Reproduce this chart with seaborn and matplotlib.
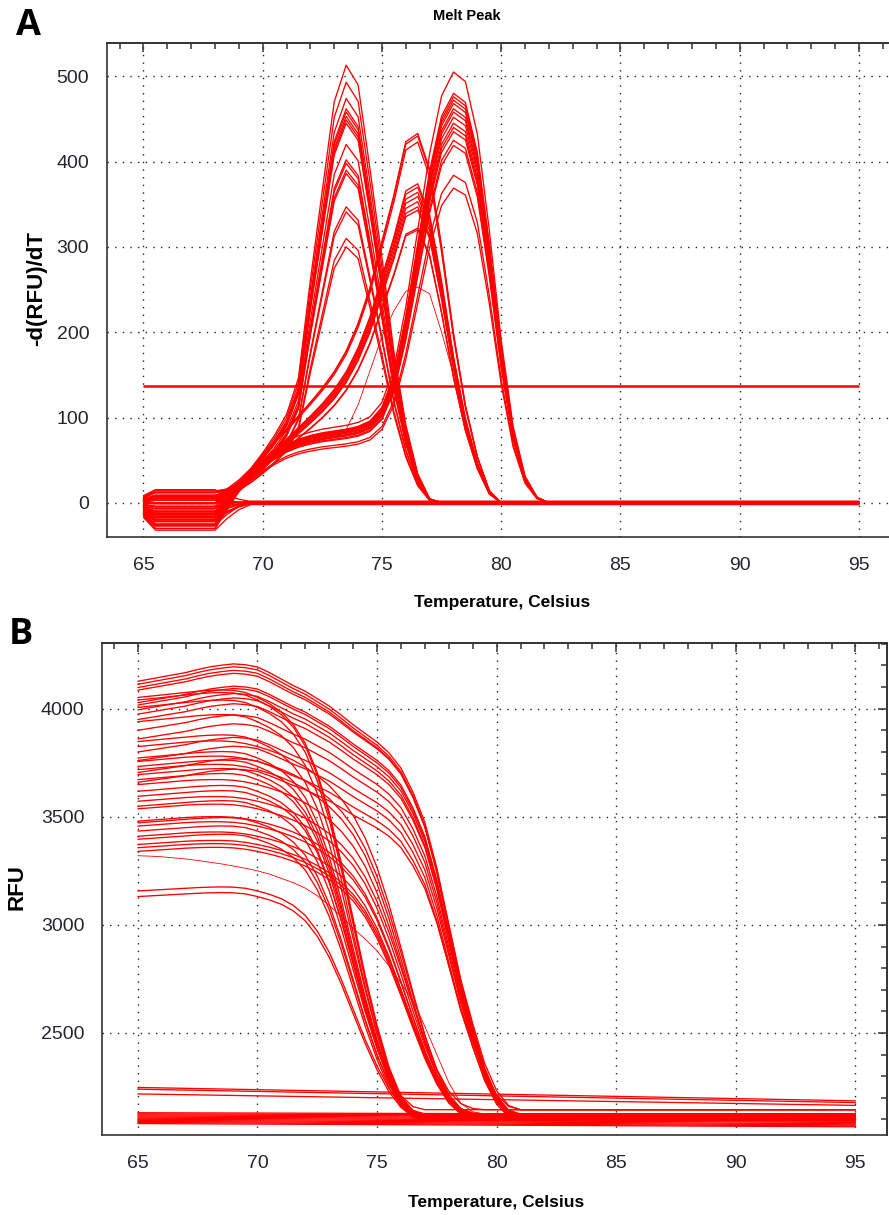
import numpy as np
import pandas as pd
import matplotlib
matplotlib.use("Agg")
import matplotlib.pyplot as plt
import seaborn as sns
from matplotlib import font_manager
from matplotlib.ticker import MultipleLocator

# ==========================================
# DATA (read off the instrument export)
# ==========================================
# readings every 0.5 C from 65 to 95
TEMPS = np.arange(65.0, 95.01, 0.5)

# --- panel A: melt peak, -d(RFU)/dT, profiles read from 65 C onwards (0 after the last value)
A_EARLY = [0, 0, 0, 0, 0, 0, 0, 8, 20, 33, 48, 65, 85, 120, 214, 300, 385, 420,
           401, 320, 235, 145, 75, 28, 4, 0]
A_MID = [0, 0, 0, 0, 0, 0, 0, 8, 20, 33, 47, 60, 72, 85, 98, 112, 128, 148, 175,
         210, 255, 300, 352, 360, 325, 250, 165, 95, 45, 12, 0]
A_LATE = [0, 0, 0, 0, 0, 0, 0, 8, 20, 32, 44, 55, 64, 70, 74, 77, 79, 81, 84, 90,
          105, 140, 205, 285, 365, 425, 450, 440, 385, 285, 170, 80, 28, 6, 0]
A_THIN = [0, 0, 0, 0, 0, 0, 0, 8, 20, 32, 44, 54, 62, 67, 71, 74, 77, 86, 115,
          155, 195, 225, 248, 253, 245, 200, 150, 92, 42, 10, 0]

PEAKS_EARLY = [513, 493, 474, 462, 458, 453, 449, 445, 420, 402, 398, 390, 386, 347, 341, 310, 300]
PEAKS_MID = [433, 430, 423, 374, 370, 364, 359, 353, 347, 343, 322, 320]
PEAKS_LATE = [505, 480, 476, 472, 468, 462, 458, 452, 445, 440, 435, 425, 419, 384, 369]

# baseline wobble of every well below 69 C
LOW_OFFSETS = [12, -25, 6, -14, 0, -30, 9, -19, -4, 3, -10, -22, 14, -7, -16, -1, 5, -27, -12, 8]
LOW_WEIGHT = [0.5, 1, 1, 1, 1, 1, 1, 0.55, 0.2, 0]
FLAT_LEVELS_A = [-2, -1.5, -1, -0.5, 0, 0.5, 1, 1.5, 2, -1, 0.8, -0.3, 1.2, 0]
THRESHOLD = 137

# --- panel B: melt curve, RFU. fraction of signal left above each well's baseline
B_EARLY = [1.0, 1.003, 1.006, 1.009, 1.012, 1.015, 1.017, 1.018, 1.017, 1.012, 1.0,
           0.985, 0.965, 0.935, 0.89, 0.82, 0.725, 0.605, 0.47, 0.335, 0.215, 0.115,
           0.045, 0.01, 0]
B_MID = [1.0, 1.003, 1.006, 1.009, 1.012, 1.014, 1.015, 1.015, 1.013, 1.008, 1.0,
         0.99, 0.978, 0.963, 0.945, 0.922, 0.895, 0.86, 0.815, 0.755, 0.675, 0.575,
         0.46, 0.34, 0.225, 0.13, 0.06, 0.02, 0.004, 0]
B_LATE = [1.0, 1.005, 1.01, 1.015, 1.02, 1.027, 1.033, 1.037, 1.04, 1.038, 1.033,
          1.02, 1.005, 0.99, 0.977, 0.96, 0.943, 0.922, 0.9, 0.88, 0.86, 0.835, 0.8,
          0.745, 0.675, 0.57, 0.44, 0.31, 0.205, 0.11, 0.045, 0.01, 0]
B_THIN = [3320, 3318, 3315, 3310, 3305, 3298, 3290, 3282, 3272, 3262, 3250, 3235,
          3215, 3195, 3170, 3135, 3090, 3040, 2985, 2935, 2880, 2810, 2730, 2650,
          2530, 2400, 2270, 2175, 2135, 2125]

START_EARLY = [4052, 4040, 4006, 3940, 3848, 3772, 3733, 3695, 3672, 3618, 3595, 3549,
               3472, 3434, 3396, 3157, 3131]
START_MID = [3825, 3756, 3718, 3649, 3572, 3537, 3480, 3457, 3410, 3372, 3357, 3340]
START_LATE = [4127, 4113, 4098, 4086, 4028, 4017, 3995, 3975, 3950, 3900, 3860, 3800,
              3760, 3705, 3660]
BASELINE_B = [2120, 2105, 2115, 2098, 2125, 2110, 2102, 2118, 2095, 2108, 2145]

# wells that never melt: RFU at 65 C and at 95 C
FLAT_B_START = [2131, 2126, 2121, 2116, 2111, 2106, 2101, 2096, 2091, 2086, 2081, 2248, 2240, 2218]
FLAT_B_END = [2122, 2116, 2110, 2104, 2098, 2092, 2086, 2080, 2075, 2070, 2066, 2186, 2178, 2165]

RED = '#ff0000'
INK = '#333333'


def pad(vals):
    """Extend a reading list to the full 65-95 range with its last value."""
    vals = list(vals)
    return np.array(vals + [vals[-1]] * (len(TEMPS) - len(vals)), dtype=float)


def build_panel_a():
    rows = []
    low_w = pad(LOW_WEIGHT)
    k = 0
    for peaks, prof in [(PEAKS_EARLY, A_EARLY), (PEAKS_MID, A_MID), (PEAKS_LATE, A_LATE)]:
        shape = pad(prof) / max(prof)
        for p in peaks:
            y = p * shape + LOW_OFFSETS[k % len(LOW_OFFSETS)] * low_w
            rows += [(k, 'amp', t, v) for t, v in zip(TEMPS, y)]
            k += 1
    y = pad(A_THIN) + LOW_OFFSETS[k % len(LOW_OFFSETS)] * low_w
    rows += [(k, 'thin', t, v) for t, v in zip(TEMPS, y)]
    k += 1
    for lvl in FLAT_LEVELS_A:
        y = lvl + LOW_OFFSETS[k % len(LOW_OFFSETS)] * low_w
        rows += [(k, 'amp', t, v) for t, v in zip(TEMPS, y)]
        k += 1
    return pd.DataFrame(rows, columns=['well', 'kind', 'temp', 'value'])


def build_panel_b():
    rows = []
    k = 0
    for starts, frac in [(START_EARLY, B_EARLY), (START_MID, B_MID), (START_LATE, B_LATE)]:
        f = pad(frac)
        for s in starts:
            base = BASELINE_B[k % len(BASELINE_B)]
            y = base + (s - base) * f
            rows += [(k, 'amp', t, v) for t, v in zip(TEMPS, y)]
            k += 1
    rows += [(k, 'thin', t, v) for t, v in zip(TEMPS, pad(B_THIN))]
    k += 1
    for s, e in zip(FLAT_B_START, FLAT_B_END):
        rows += [(k, 'amp', TEMPS[0], s), (k, 'amp', TEMPS[-1], e)]
        k += 1
    return pd.DataFrame(rows, columns=['well', 'kind', 'temp', 'value'])


# ==========================================
# STYLE
# ==========================================
sns.set_theme(style='white')
names = {f.name for f in font_manager.fontManager.ttflist}
NARROW = 'Liberation Sans Narrow' if 'Liberation Sans Narrow' in names else 'Liberation Sans'
TICK_SIZE = 16 if NARROW == 'Liberation Sans Narrow' else 14
LABEL_SIZE = 15 if NARROW == 'Liberation Sans Narrow' else 12.5
plt.rcParams['font.family'] = [NARROW, 'DejaVu Sans']

W, H = 889, 1215
fig = plt.figure(figsize=(W / 100, H / 100), dpi=100)


def frame(ax, xlim, ylim, ymajor, yminor, right_ticks):
    ax.set_xlim(*xlim)
    ax.set_ylim(*ylim)
    ax.xaxis.set_major_locator(MultipleLocator(5))
    ax.xaxis.set_minor_locator(MultipleLocator(1))
    ax.yaxis.set_major_locator(MultipleLocator(ymajor))
    ax.yaxis.set_minor_locator(MultipleLocator(yminor))
    ax.tick_params(which='major', direction='inout', length=11.5, width=1.1, color=INK,
                   labelsize=TICK_SIZE, labelcolor='#25252e', pad=7)
    ax.tick_params(which='minor', direction='inout', length=6.5, width=1.1, color=INK)
    ax.tick_params(axis='x', which='major', pad=9)
    ax.grid(True, which='major', color='#222222', linestyle=(0, (1, 4.5)), lw=1.0)
    ax.set_axisbelow(True)
    for sp in ax.spines.values():
        sp.set_color(INK)
        sp.set_linewidth(1.2)
    ax.set_xlabel('')
    ax.set_ylabel('')
    top = ax.secondary_xaxis('top')
    top.xaxis.set_major_locator(MultipleLocator(5))
    top.xaxis.set_minor_locator(MultipleLocator(1))
    top.tick_params(which='major', direction='in', length=6.5, width=1.1, color=INK, labeltop=False)
    top.tick_params(which='minor', direction='in', length=4.5, width=1.1, color=INK)
    top.spines['top'].set_color(INK)
    top.spines['top'].set_linewidth(1.2)
    if right_ticks:
        rt = ax.secondary_yaxis('right')
        rt.yaxis.set_major_locator(MultipleLocator(ymajor))
        rt.yaxis.set_minor_locator(MultipleLocator(yminor))
        rt.tick_params(which='major', direction='in', length=6.5, width=1.1, color=INK, labelright=False)
        rt.tick_params(which='minor', direction='in', length=4.5, width=1.1, color=INK)
        rt.spines['right'].set_color(INK)
        rt.spines['right'].set_linewidth(1.2)


def draw_lines(ax, df):
    sns.lineplot(data=df[df.kind == 'amp'], x='temp', y='value', units='well', estimator=None,
                 color=RED, lw=0.95, ax=ax, legend=False)
    sns.lineplot(data=df[df.kind == 'thin'], x='temp', y='value', units='well', estimator=None,
                 color=RED, lw=0.6, ax=ax, legend=False)


# ---- Panel A
ax_a = fig.add_axes([107 / W, 1 - 537 / H, 786 / W, (537 - 43) / H])
draw_lines(ax_a, build_panel_a())
ax_a.hlines(THRESHOLD, TEMPS[0], TEMPS[-1], color=RED, lw=1.8, zorder=3)
frame(ax_a, (63.47, 96.43), (-40, 539), 100, 20, right_ticks=False)

# ---- Panel B
ax_b = fig.add_axes([102 / W, 1 - 1135 / H, 785 / W, (1135 - 643) / H])
draw_lines(ax_b, build_panel_b())
frame(ax_b, (63.5, 96.32), (2028, 4304), 500, 100, right_ticks=True)

# ---- texts
bold_lbl = dict(fontweight='bold', color='black', ha='center', va='center')
fig.text(467 / W, 1 - 16 / H, 'Melt Peak', fontsize=LABEL_SIZE - 2, **bold_lbl)
fig.text(502 / W, 1 - 603 / H, 'Temperature, Celsius', fontsize=LABEL_SIZE, **bold_lbl)
fig.text(496 / W, 1 - 1202 / H, 'Temperature, Celsius', fontsize=LABEL_SIZE, **bold_lbl)
fig.text(37 / W, 1 - 288 / H, '-d(RFU)/dT', fontsize=16, rotation=90,
         family=['Liberation Sans', 'DejaVu Sans'], **bold_lbl)
fig.text(17 / W, 1 - 887 / H, 'RFU', fontsize=16, rotation=90,
         family=['Liberation Sans', 'DejaVu Sans'], **bold_lbl)
fig.text(28 / W, 1 - 26 / H, 'A', fontsize=26, family=['Open Sans', 'DejaVu Sans'], **bold_lbl)
fig.text(21 / W, 1 - 635 / H, 'B', fontsize=26, family=['Open Sans', 'DejaVu Sans'], **bold_lbl)

fig.savefig('out.png', dpi=100, facecolor='white')
